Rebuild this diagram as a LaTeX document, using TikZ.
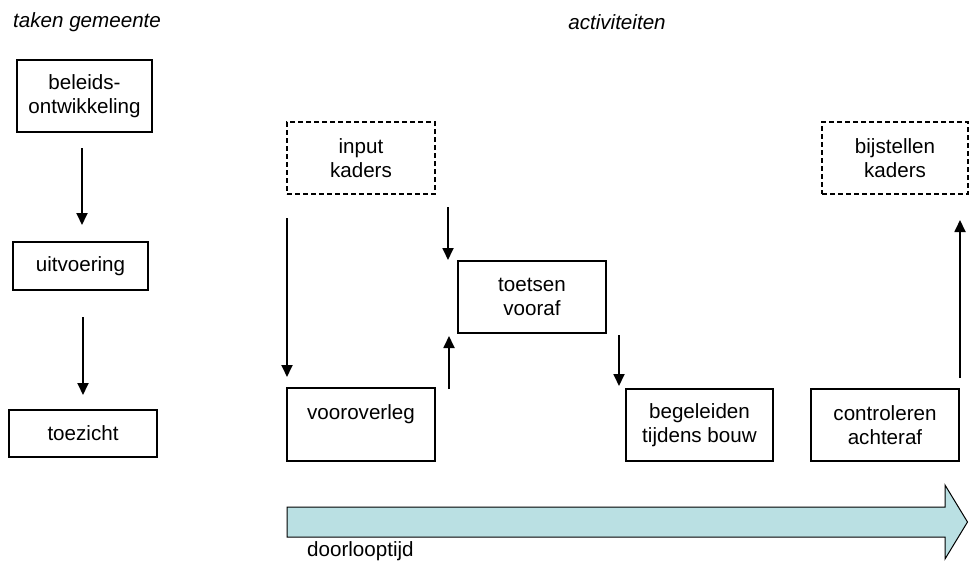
\documentclass[tikz,border=0pt]{standalone}
\usepackage{fontspec}
\setmainfont{Liberation Sans}
\usetikzlibrary{arrows.meta}
\definecolor{bandfill}{RGB}{186,224,227}
\tikzset{
  box/.style={draw, line width=1.6pt, align=center, inner sep=0pt, outer sep=0pt,
    font=\fontsize{20.6}{24}\selectfont},
  dbox/.style={box, dash pattern=on 5pt off 3pt},
  arr/.style={line width=1.8pt, -{Triangle[length=12pt,width=11pt]}},
  head/.style={font=\fontsize{20.6}{24}\selectfont\itshape},
  lbl/.style={font=\fontsize{20.6}{24}\selectfont, inner sep=0pt}
}
\begin{document}
\begin{tikzpicture}[x=1pt,y=-1pt]
\useasboundingbox (0,0) rectangle (969,562);
% headings
\node[head, anchor=west, inner sep=0pt] (h1) at (13,22) {taken gemeente};
\node[head, inner sep=0pt] (h2) at (617,22) {activiteiten};
% left column
\node[box, minimum width=135pt, minimum height=72pt] (bel) at (84.5,96) {beleids-\\ontwikkeling};
\node[box, minimum width=135pt, minimum height=48pt] (uit) at (80.5,266) {uitvoering};
\node[box, minimum width=148pt, minimum height=47pt] (toe) at (83,433.5) {toezicht};
% activities
\node[dbox, minimum width=148pt, minimum height=72pt] (inp) at (361,158) {input\\kaders};
\node[dbox, minimum width=146pt, minimum height=72pt] (bij) at (895,158) {bijstellen\\kaders};
\node[box, minimum width=148pt, minimum height=72pt] (tst) at (532,297) {toetsen\\vooraf};
\node[box, minimum width=148pt, minimum height=73pt] (voo) at (361,424.5) {vooroverleg\\ \mbox{}};
\node[box, minimum width=147pt, minimum height=72pt] (beg) at (699.5,425) {begeleiden\\tijdens bouw};
\node[box, minimum width=148pt, minimum height=72pt] (con) at (885,425) {controleren\\achteraf};
% left arrows
\draw[arr] ([xshift=-2.5pt,yshift=-16pt]bel.south) -- ([xshift=1.5pt,yshift=17pt]uit.north);
\draw[arr] ([xshift=2.5pt,yshift=-27pt]uit.south) -- ([xshift=0pt,yshift=15pt]toe.north);
% activity arrows
\draw[arr] ([yshift=-24pt]inp.south west) -- ([yshift=11pt]voo.north west);
\draw[arr] ([xshift=13pt,yshift=-13pt]inp.south east) -- ([xshift=-10pt,yshift=1pt]tst.north west);
\draw[arr] ([xshift=14pt,yshift=-1pt]voo.north east) -- ([xshift=-9pt,yshift=-3pt]tst.south west);
\draw[arr] ([xshift=13pt,yshift=-2pt]tst.south east) -- ([xshift=-7pt,yshift=3pt]beg.north west);
\draw[arr] ([xshift=1pt,yshift=11pt]con.north east) -- ([xshift=-8pt,yshift=-26pt]bij.south east);
% time arrow
\draw[fill=bandfill, line width=1pt, line join=miter]
  (287,507) -- (945,507) -- (945,485) -- (967.5,522) -- (945,559) -- (945,537) -- (287,537) -- cycle;
\node[lbl, anchor=west] (dt) at (307,551) {doorlooptijd};
\end{tikzpicture}
\end{document}
